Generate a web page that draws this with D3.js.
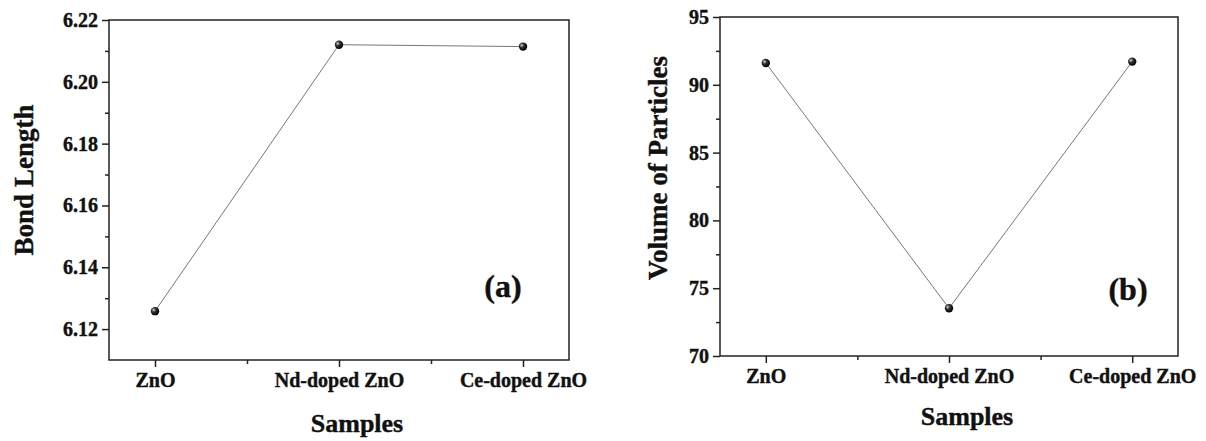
<!DOCTYPE html>
<html><head><meta charset="utf-8">
<script src="https://cdn.jsdelivr.net/npm/d3@7"></script>
<style>
body{margin:0;background:#fff;}
</style></head>
<body><svg id="c" width="1206" height="441"></svg>
<script>
const categories = ["ZnO","Nd-doped ZnO","Ce-doped ZnO"];
const bondLength = [6.1258, 6.2120, 6.2114];
const volume = [91.61, 73.52, 91.71];
const bondTicks = [6.12, 6.14, 6.16, 6.18, 6.20, 6.22];
const bondMinor = [6.13, 6.15, 6.17, 6.19, 6.21];
const volTicks = [70, 75, 80, 85, 90, 95];
const volMinor = [72.5, 77.5, 82.5, 87.5, 92.5];

const FONT = "'Liberation Serif', 'Times New Roman', 'DejaVu Serif', serif";
const svg = d3.select("#c");
const defs = svg.append("defs");
const g = defs.append("radialGradient").attr("id","ball").attr("cx","35%").attr("cy","35%").attr("r","65%");
g.append("stop").attr("offset","0%").attr("stop-color","#d8d8d8");
g.append("stop").attr("offset","40%").attr("stop-color","#333");
g.append("stop").attr("offset","100%").attr("stop-color","#000");

function styleText(sel, size){
  sel.style("font-family",FONT).style("font-weight","bold").style("font-size",size+"px")
     .style("fill","#111").style("stroke","#111").style("stroke-width","0.4px");
}

function panel(o){
  const x = d3.scaleLinear().domain([0.75,3.25]).range([o.l,o.r]);
  const y = d3.scaleLinear().domain(o.dom).range([o.b,o.t]);
  const G = svg.append("g");
  G.append("rect").attr("x",o.l).attr("y",o.t).attr("width",o.r-o.l).attr("height",o.b-o.t)
    .attr("fill","none").attr("stroke","#222").attr("stroke-width",1.5);
  const ya = G.append("g").attr("transform",`translate(${o.l},0)`)
    .call(d3.axisLeft(y).tickValues(o.ticks).tickSize(7).tickPadding(4).tickFormat(o.fmt));
  ya.select(".domain").remove();
  ya.selectAll("line").attr("stroke","#222").attr("stroke-width",1.5);
  styleText(ya.selectAll("text"),20);
  const ym = G.append("g").attr("transform",`translate(${o.l},0)`)
    .call(d3.axisLeft(y).tickValues(o.minor).tickSize(4).tickFormat(""));
  ym.select(".domain").remove();
  ym.selectAll("line").attr("stroke","#222").attr("stroke-width",1.5);
  const xa = G.append("g").attr("transform",`translate(0,${o.b})`)
    .call(d3.axisBottom(x).tickValues([1,2,3]).tickSize(7).tickPadding(6).tickFormat(d=>categories[d-1]));
  xa.select(".domain").remove();
  xa.selectAll("line").attr("stroke","#222").attr("stroke-width",1.5);
  styleText(xa.selectAll("text"),20);
  const xm = G.append("g").attr("transform",`translate(0,${o.b})`)
    .call(d3.axisBottom(x).tickValues([1.5,2.5]).tickSize(4).tickFormat(""));
  xm.select(".domain").remove();
  xm.selectAll("line").attr("stroke","#222").attr("stroke-width",1.5);
  const pts = o.vals.map((v,i)=>[x(i+1),y(v)]);
  G.append("path").attr("d",d3.line()(pts)).attr("fill","none").attr("stroke","#777").attr("stroke-width",1);
  G.selectAll("circle.m").data(pts).join("circle").attr("class","m")
    .attr("cx",d=>d[0]).attr("cy",d=>d[1]).attr("r",4.2).attr("fill","url(#ball)");
  styleText(G.append("text").attr("x",(o.l+o.r)/2+18).attr("y",o.xtY).attr("text-anchor","middle")
    .text("Samples"),26);
  styleText(G.append("text").attr("transform",`translate(${o.ytX},${o.ytC}) rotate(-90)`).attr("text-anchor","middle")
    .text(o.ytitle),27);
  styleText(G.append("text").attr("x",o.lab[0]).attr("y",o.lab[1]).attr("text-anchor","middle")
    .text(o.label),32);
}

panel({l:109,r:569,t:20,b:360,dom:[6.11,6.22],ticks:bondTicks,minor:bondMinor,fmt:d3.format(".2f"),
  vals:bondLength,xtY:432,ytX:33,ytC:180,ytitle:"Bond Length",lab:[503,297],label:"(a)"});
panel({l:720,r:1178,t:17,b:356,dom:[70,95],ticks:volTicks,minor:volMinor,fmt:d3.format("d"),
  vals:volume,xtY:425,ytX:667,ytC:168,ytitle:"Volume of Particles",lab:[1128,300],label:"(b)"});
</script></body></html>
